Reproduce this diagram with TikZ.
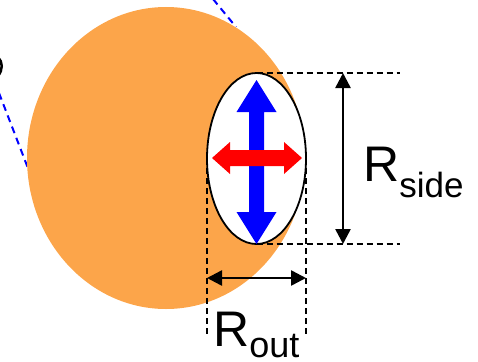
\documentclass[tikz,border=0pt]{standalone}
\usepackage{fontspec}
\setmainfont{Liberation Sans}
\usetikzlibrary{arrows.meta,shapes.geometric}
\definecolor{orangefill}{RGB}{252,165,74}
\begin{document}
\begin{tikzpicture}[x=1pt,y=-1pt,
  guide/.style={black,line width=1.3pt,dash pattern=on 6pt off 4pt},
  dimarrow/.style={black,line width=2.5pt,{Triangle[length=15pt,width=15pt]}-{Triangle[length=15pt,width=15pt]}},
  bluedash/.style={blue,line width=2pt,dash pattern=on 7pt off 5pt},
  lbl/.style={inner sep=0pt,anchor=base west,font=\fontsize{50}{60}\selectfont}]
\useasboundingbox (0,0) rectangle (478,361);
\begin{scope}
\clip (0,0) rectangle (478,361);
% dashed blue lines (behind the orange body)
\coordinate (b1) at (-1,93);
\coordinate (b2) at (31,176);
\coordinate (b3) at (213,-1);
\coordinate (b4) at (236,27);
\draw[bluedash] (b1) -- (b2);
\draw[bluedash] (b3) -- (b4);
% orange body
\fill[orangefill] (166,158) ellipse [x radius=139, y radius=151];
% small black arc at left edge
\draw[line width=2.5pt] (-2,57) .. controls (3,62) and (3,70) .. (-2,76);
% guide lines
\coordinate (tl) at (256.5,73);
\coordinate (tr) at (400,73);
\coordinate (bl) at (256.5,244);
\coordinate (br) at (400,244);
\coordinate (lt) at (207,158);
\coordinate (lb) at (207,337);
\coordinate (rt) at (306,158);
\coordinate (rb) at (306,337);
\draw[guide] (tl) -- (tr);
\draw[guide] (bl) -- (br);
\draw[guide] (lt) -- (lb);
\draw[guide] (rt) -- (rb);
% white ellipse
\node[draw=black,fill=white,line width=1.8pt,ellipse,inner sep=0pt,
  minimum width=99pt,minimum height=171pt] (cav) at (256.5,158.5) {};
% blue double arrow
\fill[blue] (256.5,80) -- (276.5,112) -- (264,112) -- (264,212) -- (276.5,212) -- (256.5,244)
  -- (236.5,212) -- (249,212) -- (249,112) -- (236.5,112) -- cycle;
% red double arrow
\fill[red] (212,158) -- (230,142) -- (230,150) -- (284,150) -- (284,142) -- (302,158)
  -- (284,174) -- (284,166) -- (230,166) -- (230,174) -- cycle;
% dimension arrows
\coordinate (st) at (343,73);
\coordinate (sb) at (343,244);
\coordinate (ol) at (207,278);
\coordinate (or) at (306,278);
\draw[dimarrow] (st) -- (sb);
\draw[dimarrow] (ol) -- (or);
% labels
\node[lbl] (rside) at (363,181) {R\raisebox{-16pt}{\fontsize{35}{40}\selectfont side}};
\node[lbl] (rout) at (213,346) {R\raisebox{-11pt}[0pt][0pt]{\fontsize{36}{40}\selectfont out}};
\end{scope}
\end{tikzpicture}
\end{document}
